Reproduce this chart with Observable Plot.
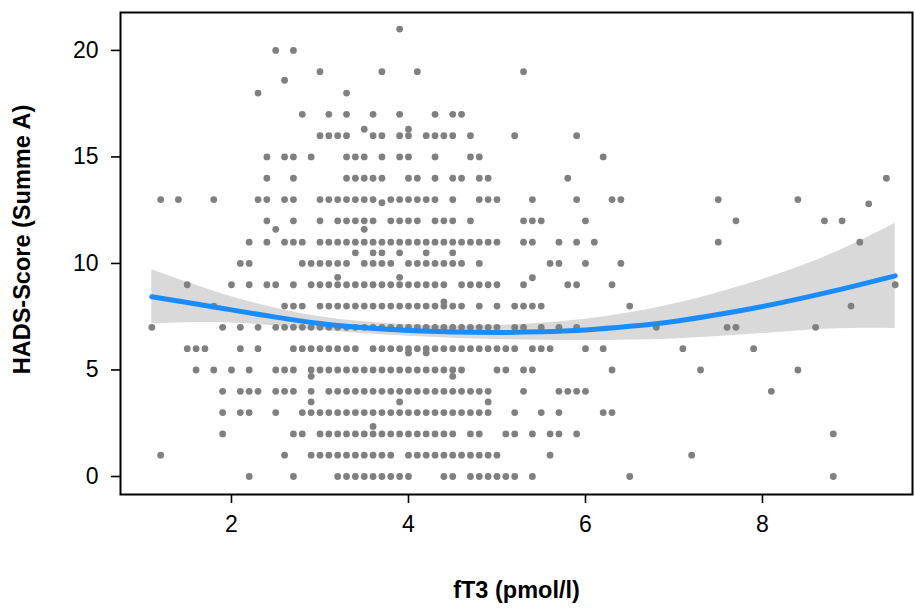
<!DOCTYPE html>
<html>
<head>
<meta charset="utf-8">
<script src="https://cdn.jsdelivr.net/npm/d3@7"></script>
<script src="https://cdn.jsdelivr.net/npm/@observablehq/plot@0.6"></script>
<style>
  html, body { margin: 0; padding: 0; background: white; }
  #chart { width: 915px; height: 614px; }
</style>
</head>
<body>
<div id="chart"></div>
<script>
// fT3 values (pmol/l) observed at each integer HADS-A score
const score0  = [2.2, 2.7, 3.2, 3.3, 3.4, 3.5, 3.6, 3.7, 3.8, 3.9, 4.0, 4.4, 4.5, 4.7, 4.8, 4.9, 5.0, 5.1, 5.2, 5.4, 6.5, 8.8];
const score1  = [1.2, 2.6, 2.9, 3.0, 3.1, 3.2, 3.3, 3.4, 3.5, 3.6, 3.7, 3.8, 4.0, 4.1, 4.2, 4.3, 4.4, 4.5, 4.6, 4.7, 4.8, 4.9, 5.0, 5.6, 7.2];
const score2  = [1.9, 2.7, 2.8, 3.0, 3.1, 3.2, 3.3, 3.4, 3.5, 3.6, 3.7, 3.8, 3.9, 4.0, 4.1, 4.2, 4.3, 4.4, 4.5, 4.7, 4.8, 5.1, 5.2, 5.4, 5.6, 5.7, 5.9, 8.8];
const score3  = [1.9, 2.1, 2.2, 2.5, 2.8, 2.9, 3.0, 3.1, 3.2, 3.3, 3.4, 3.5, 3.6, 3.7, 3.8, 3.9, 4.0, 4.1, 4.2, 4.3, 4.4, 4.5, 4.6, 4.7, 4.8, 4.9, 5.2, 5.5, 5.7, 6.2, 6.3];
const score4  = [1.9, 2.1, 2.2, 2.3, 2.5, 2.6, 2.7, 2.9, 3.1, 3.2, 3.3, 3.4, 3.5, 3.6, 3.7, 3.8, 3.9, 4.0, 4.1, 4.2, 4.3, 4.4, 4.5, 4.6, 4.7, 4.8, 4.9, 5.3, 5.7, 5.8, 5.9, 6.0, 8.1];
const score5  = [1.6, 1.8, 2.0, 2.2, 2.5, 2.6, 2.7, 2.9, 3.0, 3.1, 3.2, 3.3, 3.4, 3.5, 3.6, 3.7, 3.8, 3.9, 4.0, 4.1, 4.2, 4.3, 4.4, 4.5, 4.6, 5.0, 5.1, 5.3, 5.4, 6.3, 7.3, 8.4];
const score6  = [1.5, 1.6, 1.7, 2.1, 2.3, 2.7, 2.8, 2.9, 3.0, 3.1, 3.2, 3.3, 3.4, 3.6, 3.7, 3.8, 3.9, 4.0, 4.1, 4.2, 4.3, 4.4, 4.5, 4.6, 4.7, 4.8, 4.9, 5.0, 5.1, 5.2, 5.4, 5.5, 5.6, 6.0, 6.2, 7.1, 7.9];
const score7  = [1.1, 1.9, 2.1, 2.3, 2.5, 2.6, 2.7, 2.8, 2.9, 3.0, 3.1, 3.2, 3.3, 3.4, 3.5, 3.6, 3.7, 3.8, 3.9, 4.0, 4.1, 4.2, 4.3, 4.4, 4.5, 4.6, 4.7, 4.8, 4.9, 5.0, 5.2, 5.3, 5.5, 5.7, 5.9, 6.8, 7.6, 7.7, 8.6];
const score8  = [1.8, 2.6, 2.7, 2.8, 3.0, 3.1, 3.2, 3.3, 3.4, 3.5, 3.6, 3.7, 3.8, 3.9, 4.0, 4.1, 4.2, 4.3, 4.4, 4.5, 4.6, 4.8, 5.0, 5.2, 5.3, 5.4, 5.5, 6.5, 9.0];
const score9  = [1.5, 2.0, 2.2, 2.4, 2.5, 2.7, 2.9, 3.0, 3.1, 3.2, 3.3, 3.4, 3.5, 3.6, 3.7, 3.8, 3.9, 4.0, 4.1, 4.2, 4.3, 4.4, 4.6, 4.7, 4.8, 4.9, 5.0, 5.3, 5.8, 5.9, 6.3, 9.5];
const score10 = [2.1, 2.2, 2.8, 2.9, 3.0, 3.1, 3.2, 3.3, 3.5, 3.6, 3.7, 3.8, 4.0, 4.1, 4.2, 4.3, 4.4, 4.5, 4.6, 4.8, 5.6, 5.7, 6.0, 6.4];
const score11 = [2.2, 2.4, 2.6, 2.7, 2.8, 3.0, 3.1, 3.2, 3.3, 3.4, 3.5, 3.6, 3.7, 3.8, 3.9, 4.0, 4.1, 4.2, 4.3, 4.4, 4.5, 4.6, 4.7, 4.8, 4.9, 5.0, 5.3, 5.4, 5.7, 5.9, 6.1, 7.5, 9.1];
const score12 = [2.4, 2.7, 3.0, 3.2, 3.3, 3.4, 3.5, 3.6, 3.8, 3.9, 4.0, 4.1, 4.3, 4.4, 4.5, 4.7, 5.3, 5.4, 5.5, 6.0, 7.7, 8.7, 8.9];
const score13 = [1.2, 1.4, 1.8, 2.3, 2.4, 2.6, 2.7, 3.0, 3.1, 3.2, 3.3, 3.4, 3.5, 3.6, 3.8, 3.9, 4.0, 4.1, 4.2, 4.3, 4.5, 4.8, 4.9, 5.0, 5.4, 5.9, 6.3, 6.4, 7.5, 8.4];
const score14 = [2.4, 2.7, 3.3, 3.4, 3.5, 3.6, 3.7, 4.0, 4.1, 4.3, 4.5, 4.6, 4.8, 4.9, 5.8, 9.4];
const score15 = [2.4, 2.6, 2.7, 2.9, 3.3, 3.4, 3.5, 3.7, 3.9, 4.0, 4.3, 4.7, 4.8, 6.2];
const score16 = [3.0, 3.1, 3.2, 3.3, 3.6, 3.7, 3.9, 4.0, 4.2, 4.3, 4.4, 4.5, 4.7, 5.2, 5.9];
const score17 = [2.8, 3.1, 3.3, 3.6, 3.9, 4.3, 4.5, 4.6];
const score18 = [2.3, 3.3];
const score19 = [3.0, 3.7, 4.1, 5.3];
const score20 = [2.5, 2.7];
const score21 = [3.9];
const integerRows = [score0, score1, score2, score3, score4, score5, score6, score7, score8, score9, score10,
  score11, score12, score13, score14, score15, score16, score17, score18, score19, score20, score21];

// fractional (imputed) scores
const fracFT3   = [2.6, 3.5, 4.0, 3.7, 9.2, 2.5, 3.5, 3.4, 3.6, 3.7, 3.9, 4.2, 4.5, 3.2, 3.9, 5.4, 4.4, 4.0, 4.2, 2.9, 4.5, 2.9, 3.9, 4.9, 3.6];
const fracScore = [18.6, 16.3, 16.3, 12.85, 12.8, 11.6, 11.6, 10.5, 10.5, 10.5, 10.5, 10.5, 10.5, 9.35, 9.35, 9.33, 8.2, 5.8, 5.8, 4.7, 4.7, 3.5, 3.5, 3.5, 2.35];

// smoother and 95% band
const fitX  = [1.1, 1.5, 2.0, 2.5, 3.0, 3.5, 4.0, 4.5, 5.0, 5.5, 6.0, 6.5, 7.0, 7.5, 8.0, 8.5, 9.0, 9.5];
const fitY  = [8.44, 8.17, 7.82, 7.48, 7.18, 6.98, 6.85, 6.78, 6.76, 6.79, 6.88, 7.05, 7.28, 7.60, 7.98, 8.42, 8.90, 9.42];
const fitLo = [7.17, 7.22, 7.20, 7.06, 6.86, 6.70, 6.58, 6.49, 6.43, 6.39, 6.38, 6.41, 6.46, 6.57, 6.71, 6.87, 6.95, 6.95];
const fitHi = [9.71, 9.12, 8.44, 7.90, 7.50, 7.26, 7.12, 7.07, 7.09, 7.19, 7.38, 7.69, 8.10, 8.63, 9.25, 9.97, 10.85, 11.89];

const xTicks = [2, 4, 6, 8];
const yTicks = [0, 5, 10, 15, 20];
const xTitle = "fT3 (pmol/l)";
const yTitle = "HADS-Score (Summe A)";

const points = [];
integerRows.forEach((xs, s) => xs.forEach(v => points.push({ft3: v, hads: s})));
fracFT3.forEach((v, i) => points.push({ft3: v, hads: fracScore[i]}));
const fit = fitX.map((x, i) => ({x, y: fitY[i], lo: fitLo[i], hi: fitHi[i]}));

const tickFont = 23;
const titleFont = 23.5;

const chart = Plot.plot({
  width: 915,
  height: 614,
  marginLeft: 120,
  marginRight: 3,
  marginTop: 12,
  marginBottom: 120,
  style: {fontFamily: "'Liberation Sans', Arial, sans-serif", background: "white", color: "black"},
  x: {domain: [0.746, 9.695]},
  y: {domain: [-0.845, 21.78]},
  marks: [
    Plot.areaY(fit, {x: "x", y1: "lo", y2: "hi", fill: "#d9d9d9", curve: "natural"}),
    Plot.dot(points, {x: "ft3", y: "hads", r: 3.4, fill: "#808080", stroke: "none"}),
    Plot.line(fit, {x: "x", y: "y", stroke: "#1a8cff", strokeWidth: 5, curve: "natural"}),
    Plot.frame({stroke: "black", strokeWidth: 2}),
    Plot.axisX({ticks: xTicks, tickSize: 9, strokeWidth: 1.6, label: null, tickFormat: () => ""}),
    Plot.axisY({ticks: yTicks, tickSize: 9, strokeWidth: 1.6, label: null, tickFormat: () => ""}),
    Plot.text(xTicks, {x: d => d, frameAnchor: "bottom", dy: 37, fontSize: tickFont, fill: "black", text: d => String(d), textAnchor: "middle"}),
    Plot.text(yTicks, {y: d => d, frameAnchor: "left", dx: -22, fontSize: tickFont, fill: "black", text: d => String(d), textAnchor: "end"}),
    Plot.text([xTitle], {frameAnchor: "bottom", dy: 103, fontSize: titleFont, fontWeight: "bold", fill: "black", textAnchor: "middle"}),
    Plot.text([yTitle], {frameAnchor: "left", dx: -98, dy: -14, rotate: -90, fontSize: titleFont, fontWeight: "bold", fill: "black", textAnchor: "middle"})
  ]
});
document.getElementById("chart").appendChild(chart);
</script>
</body>
</html>
